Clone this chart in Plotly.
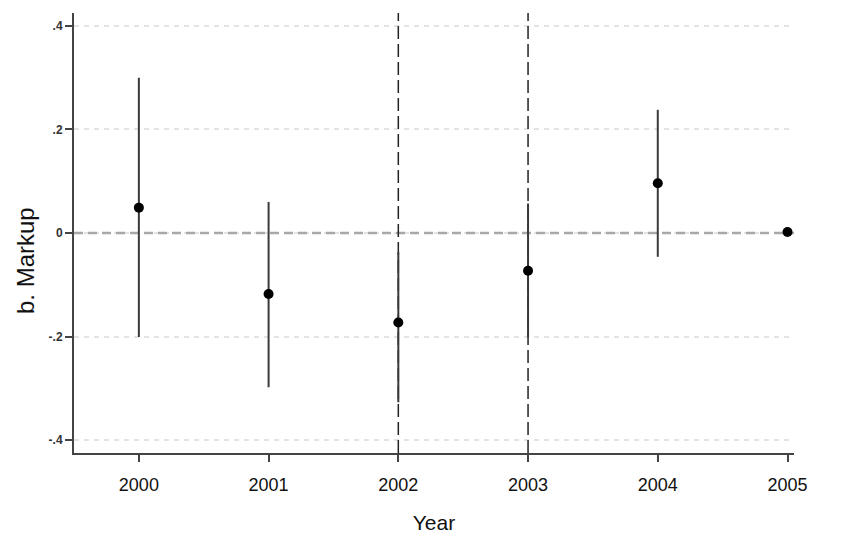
import plotly.graph_objects as go

years = [2000, 2001, 2002, 2003, 2004, 2005]
estimates = [0.049, -0.118, -0.173, -0.073, 0.096, 0.002]
ci_low = [-0.201, -0.298, -0.327, -0.201, -0.046, 0.002]
ci_high = [0.300, 0.060, -0.037, 0.057, 0.238, 0.002]
event_years = [2002, 2003]
ytickvals = [-0.4, -0.2, 0, 0.2, 0.4]
yticktext = ["-.4", "-.2", "0", ".2", ".4"]
xticktext = ["2000", "2001", "2002", "2003", "2004", "2005"]
x_range = [1999.5, 2005.05]
y_range = [-0.425, 0.425]

err_plus = [h - e for h, e in zip(ci_high, estimates)]
err_minus = [e - l for e, l in zip(estimates, ci_low)]

fig = go.Figure()
# zero reference line
fig.add_trace(go.Scatter(
    x=x_range, y=[0, 0], mode="lines",
    line=dict(color="#a8a8a8", width=2.5, dash="9px,5px"),
    showlegend=False, hoverinfo="skip",
))
# event year lines
for yr in event_years:
    fig.add_trace(go.Scatter(
        x=[yr, yr], y=y_range, mode="lines",
        line=dict(color="#222222", width=1.5, dash="13px,5px"),
        showlegend=False, hoverinfo="skip",
    ))
fig.add_trace(go.Scatter(
    x=years, y=estimates, mode="markers",
    marker=dict(color="black", size=10),
    error_y=dict(type="data", symmetric=False, array=err_plus, arrayminus=err_minus,
                 color="#3a3a3a", thickness=2, width=0),
    showlegend=False, cliponaxis=False,
))

fig.update_layout(
    width=844, height=552,
    margin=dict(l=74, r=50, t=13, b=99),
    paper_bgcolor="white", plot_bgcolor="white",
    xaxis=dict(
        range=x_range, tickvals=years, ticktext=xticktext,
        showline=True, linecolor="#444", linewidth=2,
        ticks="outside", ticklen=7, tickcolor="#444", tickwidth=2,
        showgrid=False, zeroline=False, ticklabelstandoff=7,
        tickfont=dict(family="Liberation Sans, Arial", size=18, color="#111"),
        title=dict(text="Year", font=dict(family="Liberation Sans, Arial", size=21, color="#111"), standoff=22),
    ),
    yaxis=dict(
        range=y_range, tickvals=ytickvals, ticktext=yticktext,
        showline=True, linecolor="#444", linewidth=2,
        ticks="outside", ticklen=7, tickcolor="#444", tickwidth=2,
        showgrid=True, gridcolor="#e3e3e3", gridwidth=1.5, griddash="5px,5px",
        zeroline=False,
        tickfont=dict(family="Liberation Sans, Arial", size=12, color="#333", weight="bold"),
    ),
    annotations=[dict(
        text="b. Markup", textangle=-90, xref="paper", yref="paper",
        x=-0.067, y=0.438, xanchor="center", yanchor="middle", showarrow=False,
        font=dict(family="Liberation Sans, Arial", size=24, color="#111"),
    )],
)

fig.write_html("out.html")
